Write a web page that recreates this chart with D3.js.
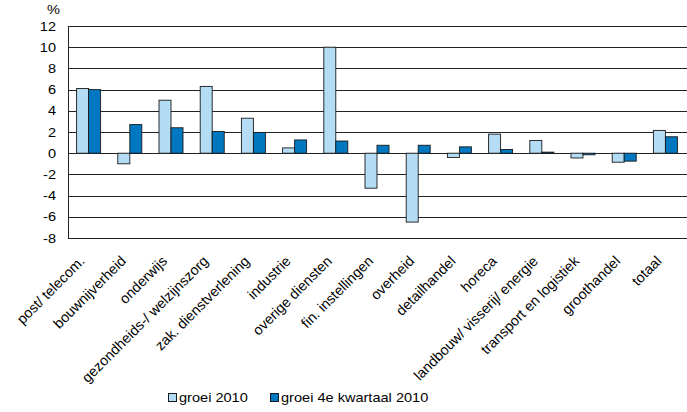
<!DOCTYPE html>
<html>
<head>
<meta charset="utf-8">
<script src="https://cdn.jsdelivr.net/npm/d3@7"></script>
<style>
  body { margin: 0; background: #fff; }
  svg { display: block; font-family: "Liberation Sans", Arial, sans-serif; }
</style>
</head>
<body>
<svg id="chart" width="687" height="412"></svg>
<script>
const categories = [
  'post/ telecom.', 'bouwnijverheid', 'onderwijs', 'gezondheids-/ welzijnszorg',
  'zak. dienstverlening', 'industrie', 'overige diensten', 'fin. instellingen',
  'overheid', 'detailhandel', 'horeca', 'landbouw/ visserij/ energie',
  'transport en logistiek', 'groothandel', 'totaal'
];
const groei2010 = [6.1, -1.0, 5.0, 6.3, 3.3, 0.5, 10.0, -3.3, -6.5, -0.4, 1.8, 1.2, -0.45, -0.85, 2.15];
const groeiQ4 = [6.0, 2.7, 2.4, 2.05, 1.95, 1.25, 1.15, 0.75, 0.75, 0.6, 0.35, 0.1, -0.15, -0.75, 1.55];
const yTicks = [-8, -6, -4, -2, 0, 2, 4, 6, 8, 10, 12];
const seriesNames = ['groei 2010', 'groei 4e kwartaal 2010'];
const colors = ['#b4dcf5', '#0078c1'];

const margin = { top: 26, right: 1, bottom: 174, left: 68 };
const width = 687, height = 412;
const stretch = 1.12; // the source image is a bit wider than tall
const svg = d3.select('#chart');

const x = d3.scaleBand()
  .domain(categories)
  .range([margin.left, width - margin.right]);
const y = d3.scaleLinear()
  .domain([-8, 12])
  .range([height - margin.bottom, margin.top]);
const crisp = v => Math.round(v) + 0.5;

// grid
svg.append('g')
  .selectAll('line')
  .data(yTicks)
  .join('line')
  .attr('x1', margin.left)
  .attr('x2', width)
  .attr('y1', d => crisp(y(d)))
  .attr('y2', d => crisp(y(d)))
  .attr('stroke', '#222')
  .attr('stroke-width', 1);

svg.append('line')
  .attr('x1', crisp(margin.left)).attr('x2', crisp(margin.left))
  .attr('y1', crisp(y(12))).attr('y2', crisp(y(-8)))
  .attr('stroke', '#222');

// y labels
svg.append('g')
  .selectAll('text')
  .data(yTicks)
  .join('text')
  .attr('transform', d => `translate(56,${y(d)}) scale(${stretch},1)`)
  .attr('dy', '0.36em')
  .attr('text-anchor', 'end')
  .attr('font-size', '13px')
  .text(d => d);

svg.append('text')
  .attr('transform', `translate(47,14) scale(${stretch},1)`)
  .attr('font-size', '13px')
  .text('%');

// bars
const barW = 12;
const series = [groei2010, groeiQ4];
series.forEach((vals, s) => {
  svg.append('g')
    .selectAll('rect')
    .data(vals)
    .join('rect')
    .attr('x', (d, i) => x(categories[i]) + x.bandwidth() / 2 - barW + s * barW)
    .attr('y', d => y(Math.max(0, d)))
    .attr('width', barW)
    .attr('height', d => Math.abs(y(d) - y(0)))
    .attr('fill', colors[s])
    .attr('stroke', '#1a1a1a')
    .attr('stroke-width', 0.9);
});

// x labels
svg.append('g')
  .selectAll('text')
  .data(categories)
  .join('text')
  .attr('transform', d => `translate(${x(d) + x.bandwidth() / 2 - 3},${y(-8) + 24}) rotate(-45)`)
  .attr('text-anchor', 'end')
  .attr('font-size', '14.3px')
  .text(d => d);

// legend
const legendX = [168, 270];
seriesNames.forEach((name, s) => {
  svg.append('rect')
    .attr('x', legendX[s] + 0.5).attr('y', 393.5)
    .attr('width', 8).attr('height', 8)
    .attr('fill', colors[s])
    .attr('stroke', '#1a1a1a');
  svg.append('text')
    .attr('transform', `translate(${legendX[s] + 11},402) scale(${stretch},1)`)
    .attr('font-size', '13px')
    .text(name);
});
</script>
</body>
</html>
